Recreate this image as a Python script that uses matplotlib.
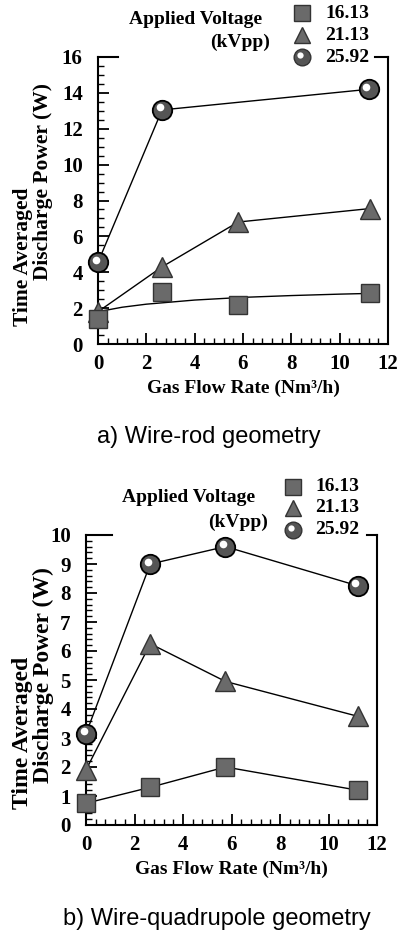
import matplotlib.pyplot as plt
import matplotlib.transforms as mtransforms
from matplotlib.ticker import MultipleLocator

plt.rcParams['font.family'] = 'Liberation Serif'
plt.rcParams['font.weight'] = 'bold'

# a) wire-rod geometry
top_x = [0, 2.65, 5.8, 11.25]
top_16 = [1.4, 2.9, 2.15, 2.85]
top_21 = [1.8, 4.3, 6.8, 7.55]
top_25_x = [0, 2.65, 11.2]
top_25 = [4.55, 13.05, 14.2]
fit_x = [0, 1, 2, 4, 6, 8, 10, 11.25]
fit_y = [1.8, 2.05, 2.22, 2.45, 2.6, 2.7, 2.78, 2.82]

# b) wire-quadrupole geometry
bot_x = [0, 2.65, 5.75, 11.2]
bot_16 = [0.75, 1.3, 2.0, 1.2]
bot_21 = [1.9, 6.25, 4.95, 3.75]
bot_25 = [3.15, 9.0, 9.6, 8.25]

voltages = ['16.13', '21.13', '25.92']
W, H = 398, 933

fig = plt.figure(figsize=(W / 100, H / 100), dpi=100)


def box(l, t, r, b):
    return [l / W, 1 - b / H, (r - l) / W, (b - t) / H]


def circles(ax, x, y):
    ax.plot(x, y, 'o', ms=14, mfc='#555555', mec='black', mew=1.3, clip_on=False, zorder=4)
    off = mtransforms.offset_copy(ax.transData, fig=fig, x=-1.8, y=1.8, units='points')
    ax.plot(x, y, 'o', ms=5.5, mfc='white', mec='none', transform=off, clip_on=False, zorder=5)


def squares(ax, x, y):
    ax.plot(x, y, 's', ms=13, mfc='#6a6a6a', mec='#333333', mew=1, clip_on=False, zorder=4)


def triangles(ax, x, y):
    ax.plot(x, y, '^', ms=14, mfc='#6a6a6a', mec='#333333', mew=1, clip_on=False, zorder=4)


def style(ax, ymax, ymaj, ymin, lgap, rgap):
    ax.set_xlim(0, 12)
    ax.set_ylim(0, ymax)
    ax.xaxis.set_major_locator(MultipleLocator(2))
    ax.xaxis.set_minor_locator(MultipleLocator(0.4))
    ax.yaxis.set_major_locator(MultipleLocator(ymaj))
    ax.yaxis.set_minor_locator(MultipleLocator(ymin))
    ax.tick_params(which='major', direction='in', length=8, width=1.3, labelsize=15)
    ax.tick_params(axis='y', which='major', pad=11)
    ax.tick_params(axis='x', which='major', pad=7)
    ax.tick_params(which='minor', direction='in', length=4, width=1)
    ax.tick_params(top=False, right=False, which='both')
    for lab in ax.get_xticklabels() + ax.get_yticklabels():
        lab.set_fontweight('bold')
    for s in ['left', 'bottom', 'right']:
        ax.spines[s].set_linewidth(1.5)
    ax.spines['top'].set_visible(False)
    ax.plot([0, lgap], [1, 1], color='black', lw=1.5, transform=ax.transAxes, clip_on=False)
    ax.plot([rgap, 1], [1, 1], color='black', lw=1.5, transform=ax.transAxes, clip_on=False)
    ax.set_xlabel('Gas Flow Rate (Nm³/h)', fontsize=14, fontweight='bold', labelpad=4)


def ylabel(x1, y1, x2, y2, size):
    fig.text(x1 / W, 1 - y1 / H, 'Time Averaged', rotation=90, ha='center', va='center',
             fontsize=size)
    fig.text(x2 / W, 1 - y2 / H, 'Discharge Power (W)', rotation=90, ha='center', va='center',
             fontsize=size)


def legend(mx, ys, tx, head_x, head_y, kv_x, kv_y):
    fig.text(head_x / W, 1 - head_y / H, 'Applied Voltage', ha='center', va='center', fontsize=14)
    fig.text(kv_x / W, 1 - kv_y / H, '(kVpp)', ha='right', va='center', fontsize=14)
    marks = [('s', 11, '#6a6a6a'), ('^', 12, '#6a6a6a'), ('o', 12, '#555555')]
    for (m, ms, c), yy, lab in zip(marks, ys, voltages):
        fig.add_artist(plt.Line2D([mx / W], [1 - yy / H], marker=m, ms=ms, mfc=c, mec='#333333',
                                  mew=1, transform=fig.transFigure))
        if m == 'o':
            fig.add_artist(plt.Line2D([(mx - 2) / W], [1 - (yy - 2) / H], marker='o', ms=4.5,
                                      mfc='white', mec='none', transform=fig.transFigure))
        fig.text(tx / W, 1 - yy / H, lab, ha='left', va='center', fontsize=14)


# top chart
ax1 = fig.add_axes(box(98, 57, 388, 344))
ax1.plot(fit_x, fit_y, color='black', lw=1)
ax1.plot(top_x, top_21, color='black', lw=1)
ax1.plot(top_25_x, top_25, color='black', lw=1)
triangles(ax1, top_x, top_21)
squares(ax1, top_x, top_16)
circles(ax1, top_25_x, top_25)
style(ax1, 16, 2, 0.5, 0.07, 0.955)
ylabel(23, 257, 43, 182, 15.5)
legend(302, [13, 35, 57], 325, 196, 20, 270, 42)
fig.text(209 / W, 1 - 437 / H, 'a) Wire-rod geometry', ha='center', va='center',
         fontsize=17, fontweight='normal', family='Liberation Sans')

# bottom chart
ax2 = fig.add_axes(box(86, 535, 377, 825))
ax2.plot(bot_x, bot_16, color='black', lw=1)
ax2.plot(bot_x, bot_21, color='black', lw=1)
ax2.plot(bot_x, bot_25, color='black', lw=1)
squares(ax2, bot_x, bot_16)
triangles(ax2, bot_x, bot_21)
circles(ax2, bot_x, bot_25)
style(ax2, 10, 1, 0.2, 0.09, 0.966)
ylabel(23, 733, 43, 675, 17)
legend(293, [487, 508, 530], 315, 189, 498, 268, 522)
fig.text(217 / W, 1 - 919 / H, 'b) Wire-quadrupole geometry', ha='center', va='center',
         fontsize=17, fontweight='normal', family='Liberation Sans')

fig.savefig('out.png', dpi=100)
